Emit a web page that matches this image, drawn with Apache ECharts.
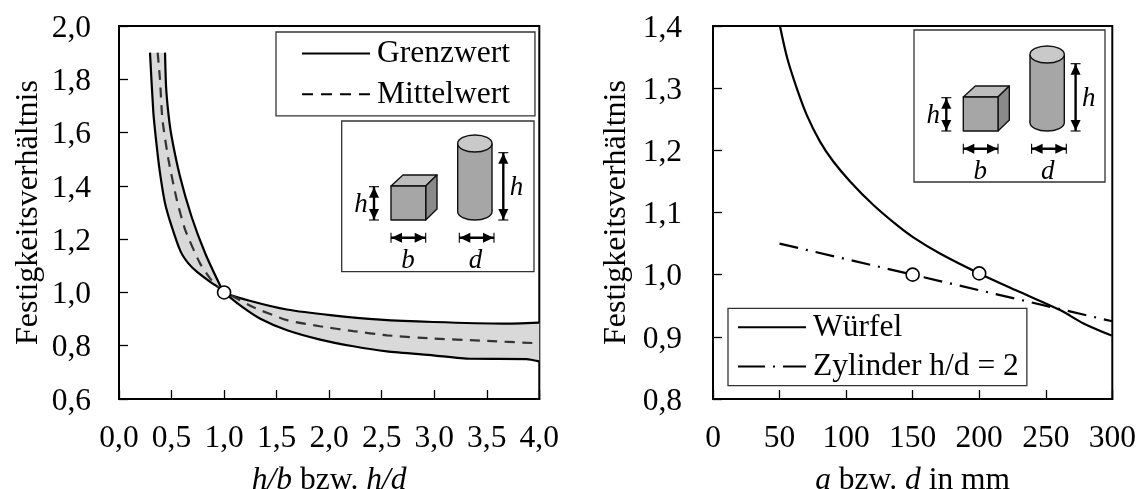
<!DOCTYPE html>
<html><head><meta charset="utf-8">
<style>html,body{margin:0;padding:0;background:#fff}#c{width:1147px;height:489px}</style>
<script src="https://cdn.jsdelivr.net/npm/echarts@6/dist/echarts.min.js"></script>
</head><body><div id="c"></div>
<script>
// Left panel data [h/b, ratio]
var grenzLower = [[0.295,1.90],[0.327,1.675],[0.359,1.549],[0.39,1.449],[0.438,1.335],[0.502,1.247],[0.587,1.153],[0.66,1.109],[0.74,1.078],[0.867,1.04],[0.96,1.015],[1.0,1.0],[1.15,0.952],[1.34,0.902],[1.6,0.858],[1.914,0.823],[2.23,0.798],[2.55,0.779],[2.99,0.764],[3.34,0.751],[3.88,0.75],[4.0,0.741]];
var grenzUpper = [[0.438,1.90],[0.448,1.772],[0.47,1.672],[0.5,1.586],[0.58,1.436],[0.69,1.285],[0.82,1.147],[0.96,1.028],[1.0,1.0],[1.28,0.965],[1.597,0.936],[2.01,0.915],[2.486,0.898],[2.99,0.889],[3.66,0.883],[4.0,0.887]];
var mittel = [[0.368,1.90],[0.39,1.80],[0.413,1.65],[0.47,1.50],[0.55,1.348],[0.63,1.235],[0.77,1.11],[0.88,1.046],[1.0,1.0],[1.09,0.984],[1.28,0.944],[1.6,0.896],[1.91,0.873],[2.23,0.855],[2.55,0.839],[2.99,0.827],[3.44,0.819],[4.0,0.809]];
var pointLeft = [[1.0,1.0]];
// Right panel data [size mm, ratio]
var wuerfel = [[50.3,1.40],[55.8,1.348],[62.9,1.30],[70.4,1.257],[80.4,1.214],[90.4,1.182],[103,1.15],[120.5,1.112],[138,1.08],[150.5,1.06],[170.5,1.034],[200,1.002],[230.6,0.972],[260.7,0.943],[278,0.922],[299.5,0.902]];
var zylinder = [[50,1.05],[150,1.0],[200,0.975],[300,0.925]];
var pointsRight = [[150,1.0],[200,1.002]];

var FONT = '"Liberation Serif","Times New Roman",serif';
var FS = 31.5;
var BLACK = '#000';
var comma = function(v){ return v.toFixed(1).replace('.',','); };
function band(params, api){
  if (params.dataIndex !== 0) return;
  var pts = [];
  grenzLower.forEach(function(p){ pts.push(api.coord(p)); });
  grenzUpper.slice().reverse().forEach(function(p){ pts.push(api.coord(p)); });
  return {type:'polygon', shape:{points:pts}, style:{fill:'#d9d9d9', stroke:null}, silent:true};
}
function xAxis(idx,min,max,iv,fmt,name){
  return {gridIndex:idx,type:'value',min:min,max:max,interval:iv,name:name,nameLocation:'middle',nameGap:66,
    nameTextStyle:{fontFamily:FONT,fontSize:FS,color:BLACK,rich:{i:{fontFamily:FONT,fontStyle:'italic',fontSize:FS,color:BLACK}}},
    axisLine:{show:true,onZero:false,lineStyle:{color:BLACK,width:2}},
    axisTick:{show:true,inside:true,length:9,lineStyle:{color:BLACK,width:1.3}},
    axisLabel:{fontFamily:FONT,fontSize:FS,color:BLACK,margin:24,formatter:fmt,showMinLabel:true,showMaxLabel:true},
    splitLine:{show:false}};
}
function yAxis(idx,min,max,iv,margin,gap){
  return {gridIndex:idx,type:'value',min:min,max:max,interval:iv,name:'Festigkeitsverhältnis',nameLocation:'middle',nameGap:gap,nameRotate:90,
    nameTextStyle:{fontFamily:FONT,fontSize:32,color:BLACK},
    axisLine:{show:true,onZero:false,lineStyle:{color:BLACK,width:2}},
    axisTick:{show:true,inside:true,length:9,lineStyle:{color:BLACK,width:1.3}},
    axisLabel:{fontFamily:FONT,fontSize:FS,color:BLACK,margin:margin,
      formatter:function(v){return '{t|'+comma(v)+'}';},
      rich:{t:{fontFamily:FONT,fontSize:FS,color:BLACK,padding:[5,0,0,0]}},
      showMinLabel:true,showMaxLabel:true},
    splitLine:{show:false}};
}
function line(name,data,xi,color,type,smooth){
  return {name:name,type:'line',xAxisIndex:xi,yAxisIndex:xi,data:data,symbol:'none',smooth:smooth,z:3,
    lineStyle:{color:color,width:2.2,type:type},itemStyle:{color:color},clip:true,animation:false};
}
function dots(data,xi){
  return {type:'scatter',xAxisIndex:xi,yAxisIndex:xi,data:data,symbol:'circle',symbolSize:13,z:5,silent:true,
    itemStyle:{color:'#fff',borderColor:BLACK,borderWidth:1.6,opacity:1},animation:false};
}
// inset illustration, placed relative to the left panel's position
function inset(bx,by,bw,bh,dx,dy){
  var S='#111', out=[];
  function P(pts,fill){ out.push({type:'polygon',shape:{points:pts.map(function(p){return [p[0]+dx,p[1]+dy];})},style:{fill:fill,stroke:S,lineWidth:1.4,lineJoin:'round'},z:20}); }
  function L(x1,y1,x2,y2,w){ out.push({type:'line',shape:{x1:x1+dx,y1:y1+dy,x2:x2+dx,y2:y2+dy},style:{stroke:'#000',lineWidth:w},z:21}); }
  function H(pts){ out.push({type:'polygon',shape:{points:pts.map(function(p){return [p[0]+dx,p[1]+dy];})},style:{fill:'#000'},z:21}); }
  function T(t,x,y){ out.push({type:'text',x:x+dx,y:y+dy,style:{text:t,font:'italic 27px '+FONT,fill:'#000',align:'center',verticalAlign:'middle'},z:21}); }
  function V(x,y1,y2){ L(x,y1,x,y2,2.4); L(x-5,y1,x+5,y1,1.1); L(x-5,y2,x+5,y2,1.1);
    H([[x,y1+0.5],[x-5,y1+11],[x+5,y1+11]]); H([[x,y2-0.5],[x-5,y2-11],[x+5,y2-11]]); }
  function W(x1,x2,y){ L(x1,y,x2,y,2.4); L(x1,y-5,x1,y+5,1.1); L(x2,y-5,x2,y+5,1.1);
    H([[x1+0.5,y],[x1+11,y-5],[x1+11,y+5]]); H([[x2-0.5,y],[x2-11,y-5],[x2-11,y+5]]); }
  out.push({type:'rect',shape:{x:bx,y:by,width:bw,height:bh},style:{fill:'#fff',stroke:'#333',lineWidth:1.3},z:19});
  P([[391,186],[403,175],[437,175],[425.7,186]],'#bdbdbd');
  P([[425.7,186],[437,175],[437,209],[425.7,220]],'#8a8a8a');
  P([[391,186],[425.7,186],[425.7,220],[391,220]],'#a6a6a6');
  // cylinder: bottom ellipse, body, side edges, top ellipse
  out.push({type:'ellipse',shape:{cx:474.85+dx,cy:211.5+dy,rx:17.15,ry:8.5},style:{fill:'#a6a6a6',stroke:S,lineWidth:1.4},z:20});
  out.push({type:'rect',shape:{x:457.7+dx,y:143.5+dy,width:34.3,height:68},style:{fill:'#a6a6a6'},z:20});
  out.push({type:'line',shape:{x1:457.7+dx,y1:143.5+dy,x2:457.7+dx,y2:211.5+dy},style:{stroke:S,lineWidth:1.4},z:20});
  out.push({type:'line',shape:{x1:492+dx,y1:143.5+dy,x2:492+dx,y2:211.5+dy},style:{stroke:S,lineWidth:1.4},z:20});
  out.push({type:'ellipse',shape:{cx:474.85+dx,cy:143.5+dy,rx:17.15,ry:8.5},style:{fill:'#c9c9c9',stroke:S,lineWidth:1.4},z:20});
  V(374,186.7,220); V(503.3,152.7,220);
  W(391,425.7,237.7); W(459.3,494,237.7);
  T('h',361,205); T('h',516.5,188); T('b',408,261); T('d',475.5,261);
  return out;
}
var legendBase = {orient:'vertical',backgroundColor:'#fff',borderColor:'#333',borderWidth:1.3,itemWidth:68,itemHeight:26,
  selectedMode:false,textStyle:{fontFamily:FONT,fontSize:FS,color:BLACK,padding:[0,0,0,2]},
  itemStyle:{color:'transparent',borderColor:'transparent',borderWidth:0,opacity:0},z:10};
var opt = {
  animation:false,backgroundColor:'#fff',
  grid:[
    {left:119,top:26,width:420.3,height:373,show:true,borderColor:BLACK,borderWidth:2,backgroundColor:'transparent',outerBoundsMode:'none'},
    {left:713,top:26,width:399.3,height:373,show:true,borderColor:BLACK,borderWidth:2,backgroundColor:'transparent',outerBoundsMode:'none'}
  ],
  xAxis:[
    xAxis(0,0,4,0.5,comma,'{i|h/b} bzw. {i|h/d}'),
    xAxis(1,0,300,50,function(v){return String(v);},'{i|a} bzw. {i|d} in mm')
  ],
  yAxis:[yAxis(0,0.6,2.0,0.2,28,74),yAxis(1,0.8,1.4,0.1,31,80)],
  legend:[
    Object.assign({},legendBase,{left:276,top:32,itemGap:8.7,padding:[5.6,25,5.6,25],data:[{name:'Grenzwert'},{name:'Mittelwert',lineStyle:{type:[11,8],color:'#000'}}]}),
    Object.assign({},legendBase,{left:728,top:308.3,itemGap:7.3,padding:[3,8,3,9],data:[{name:'Würfel'},{name:'Zylinder h/d = 2',lineStyle:{type:[27,8,2,8]}}]})
  ],
  graphic:inset(341.7,121,192.3,150.7,0,0).concat(inset(914,30,191,152,572.3,-89)),
  series:[
    {type:'custom',xAxisIndex:0,yAxisIndex:0,data:[[1,1]],renderItem:band,z:1,silent:true,animation:false},
    line('Grenzwert',grenzLower,0,BLACK,'solid',0.2),
    line('Grenzwert',grenzUpper,0,BLACK,'solid',0.2),
    line('Mittelwert',mittel,0,'#333',[10,7.5],0.2),
    dots(pointLeft,0),
    line('Würfel',wuerfel,1,BLACK,'solid',0.3),
    line('Zylinder h/d = 2',zylinder,1,BLACK,[19,8,2,8],false),
    dots(pointsRight,1)
  ]
};
echarts.init(document.getElementById('c'),null,{renderer:'canvas'}).setOption(opt);
</script></body></html>
